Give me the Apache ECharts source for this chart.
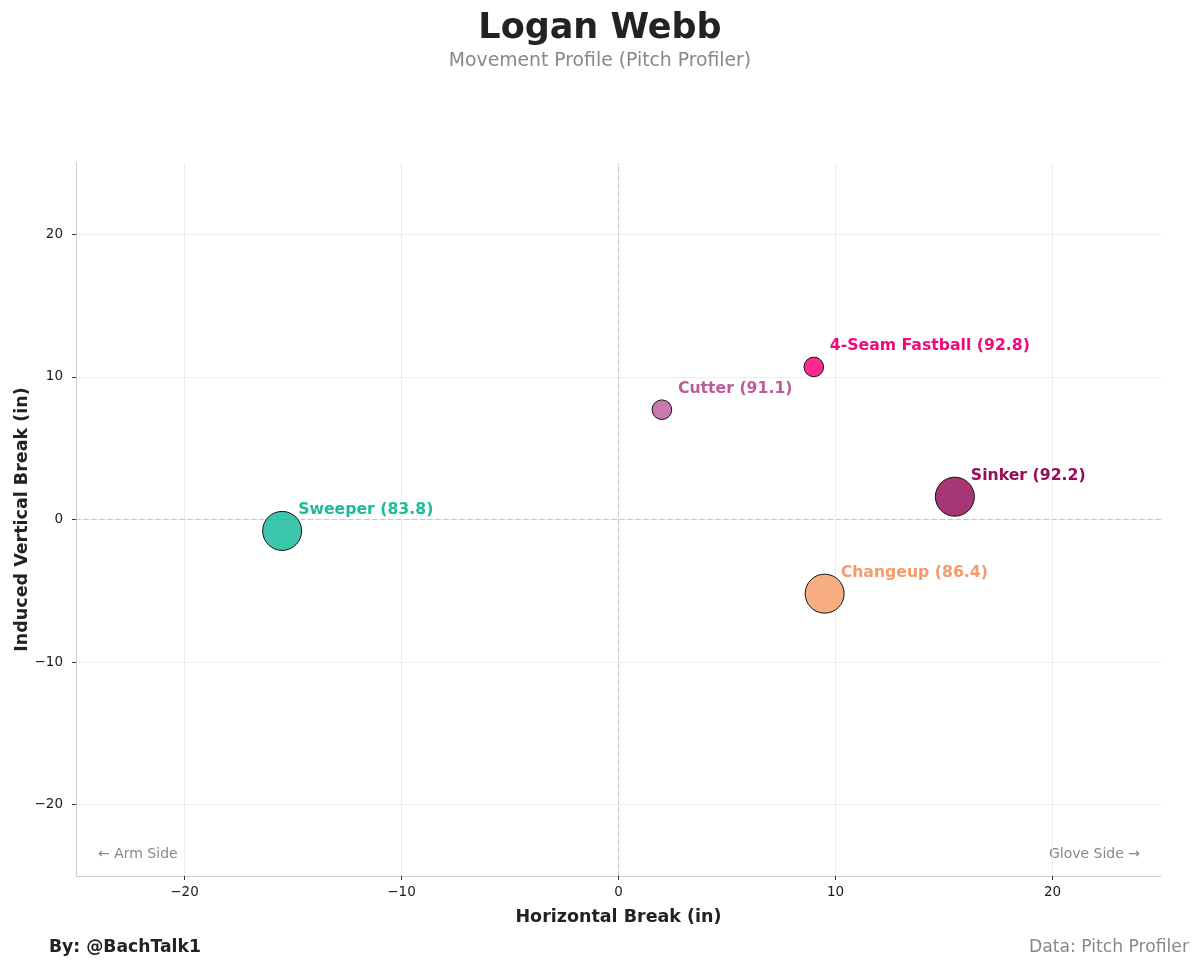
<!DOCTYPE html>
<html>
<head>
<meta charset="utf-8">
<script src="https://cdn.jsdelivr.net/npm/echarts@6/dist/echarts.min.js"></script>
<style>
html,body{margin:0;padding:0;background:#fff;}
#c{width:1200px;height:969px;}
</style>
</head>
<body>
<div id="c"></div>
<script>
const pitchNames = ['Sweeper', 'Cutter', '4-Seam Fastball', 'Sinker', 'Changeup'];
const velocity = [83.8, 91.1, 92.8, 92.2, 86.4];
const horzBreak = [-15.5, 2.0, 9.0, 15.5, 9.5];
const vertBreak = [-0.8, 7.7, 10.7, 1.6, -5.2];
const usagePct = [23, 7, 7, 36, 26];
const fillColors = ['rgba(26,188,156,0.85)', 'rgba(186,88,156,0.8)', 'rgba(255,10,128,0.87)', 'rgba(147,10,85,0.82)', 'rgba(247,154,102,0.82)'];
const labelColors = ['#1abc9c', '#bc5a9c', '#f0087c', '#990a5a', '#f59a6a'];

const ff = 'DejaVu Sans';
const chart = echarts.init(document.getElementById('c'));

const series = pitchNames.map((n, i) => ({
  type: 'scatter',
  name: n,
  data: [[horzBreak[i], vertBreak[i]]],
  symbolSize: Math.max(19, Math.min(39, usagePct[i] * 2.8)),
  itemStyle: { color: fillColors[i], opacity: 1, borderColor: '#111', borderWidth: 1 },
  label: {
    show: true,
    position: 'inside',
    align: 'left',
    verticalAlign: 'middle',
    offset: [16, -21],
    formatter: n + ' (' + velocity[i].toFixed(1) + ')',
    color: labelColors[i],
    opacity: 1,
    fontFamily: ff,
    fontWeight: 'bold',
    fontSize: 15.7
  },
  z: 5
}));

series.push({
  type: 'scatter',
  data: [],
  silent: true,
  markLine: {
    silent: true,
    symbol: 'none',
    label: { show: false },
    lineStyle: { color: '#c8c8c8', type: [5, 3], width: 1 },
    data: [{ xAxis: 0 }, { yAxis: 0 }]
  },
  z: 1
});

const fmt = v => (v < 0 ? '\u2212' + Math.abs(v) : String(v));

function axis(name, gap, margin) {
  return {
    type: 'value', min: -25, max: 25, splitNumber: 5,
    name: name, nameLocation: 'middle', nameGap: gap, nameMoveOverlap: false,
    nameTextStyle: { fontFamily: ff, fontWeight: 'bold', fontSize: 17.5, color: '#222' },
    axisLine: { show: true, onZero: false, lineStyle: { color: '#cccccc' } },
    axisTick: { show: true, length: 4, lineStyle: { color: '#333' } },
    axisLabel: { showMinLabel: false, showMaxLabel: false, formatter: fmt, fontFamily: ff, fontSize: 13.5, color: '#1a1a1a', margin: margin },
    splitLine: { show: true, showMinLine: false, showMaxLine: false, lineStyle: { color: '#ececec' } }
  };
}

chart.setOption({
  backgroundColor: '#fff',
  animation: false,
  grid: { left: 76, right: 39, top: 163, bottom: 93, outerBoundsMode: 'none', containLabel: false },
  xAxis: axis('Horizontal Break (in)', 32, 9),
  yAxis: axis('Induced Vertical Break (in)', 45, 13),
  series: series,
  graphic: [
    { type: 'text', left: 'center', top: 11, style: { text: 'Logan Webb', fontFamily: ff, fontWeight: 'bold', fontSize: 35, fill: '#222' } },
    { type: 'text', left: 'center', top: 52, style: { text: 'Movement Profile (Pitch Profiler)', fontFamily: ff, fontSize: 18.8, fill: '#888' } },
    { type: 'text', left: 98, top: 847, style: { text: '\u2190 Arm Side', fontFamily: ff, fontSize: 14, fill: '#888' } },
    { type: 'text', right: 60, top: 847, style: { text: 'Glove Side \u2192', fontFamily: ff, fontSize: 14, fill: '#888' } },
    { type: 'text', left: 49, top: 939, style: { text: 'By: @BachTalk1', fontFamily: ff, fontWeight: 'bold', fontSize: 17.2, fill: '#222' } },
    { type: 'text', right: 11, top: 939, style: { text: 'Data: Pitch Profiler', fontFamily: ff, fontSize: 17.2, fill: '#888' } }
  ]
});
</script>
</body>
</html>
